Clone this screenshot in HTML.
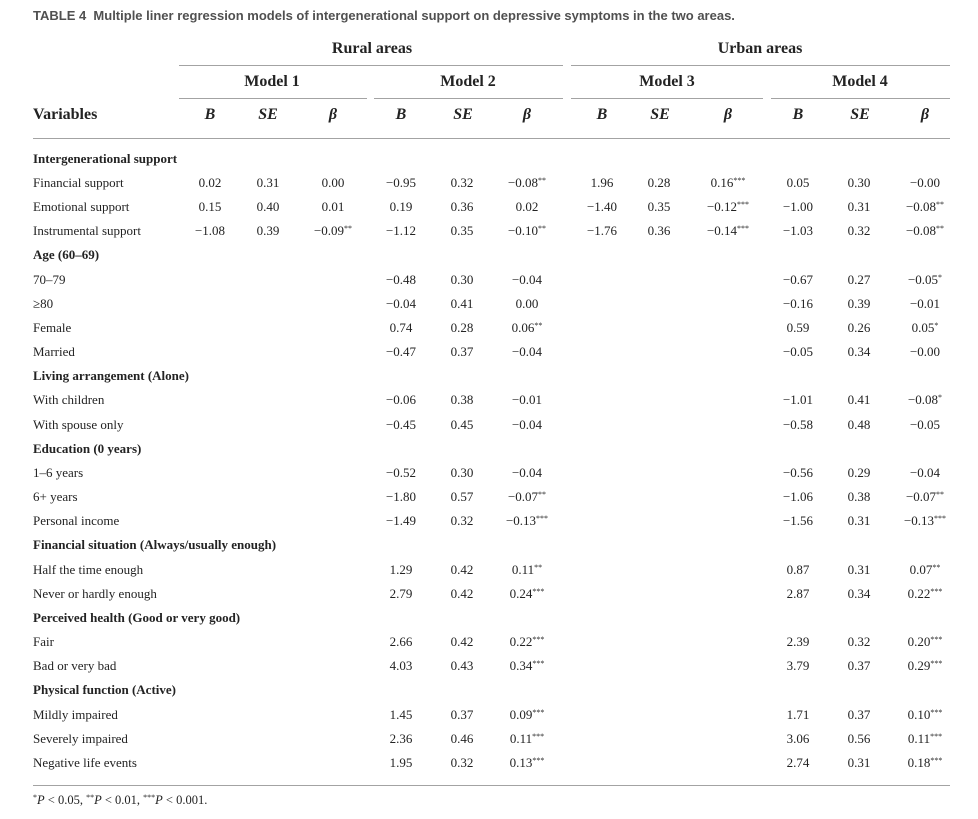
<!DOCTYPE html>
<html>
<head>
<meta charset="utf-8">
<style>
  html,body{margin:0;padding:0;background:#fff;}
  body{width:978px;height:819px;position:relative;overflow:hidden;font-family:"Liberation Serif",serif;color:#232323;}
  .t{position:absolute;white-space:nowrap;line-height:16px;font-size:13px;}
  .c{transform:translateX(-50%);}
  .b{font-weight:bold;}
  .h{font-size:16px;line-height:20px;font-weight:bold;}
  .hi{font-style:italic;}
  .ln{position:absolute;height:1px;background:#a3a3a3;}
  .title{position:absolute;left:33px;top:8px;line-height:16px;font-family:"Liberation Sans",sans-serif;font-weight:bold;font-size:13px;color:#505050;white-space:nowrap;}
  sup{font-size:8px;vertical-align:0;position:relative;top:-4px;line-height:0;}
</style>
</head>
<body>
<div class="title">TABLE 4&nbsp;&nbsp;Multiple liner regression models of intergenerational support on depressive symptoms in the two areas.</div>

<!-- header -->
<div class="t h c" style="left:372px;top:39px;">Rural areas</div>
<div class="t h c" style="left:760px;top:39px;">Urban areas</div>
<div class="ln" style="left:179px;width:384px;top:65px;"></div>
<div class="ln" style="left:571px;width:379px;top:65px;"></div>

<div class="t h c" style="left:272px;top:72px;">Model 1</div>
<div class="t h c" style="left:468px;top:72px;">Model 2</div>
<div class="t h c" style="left:667px;top:72px;">Model 3</div>
<div class="t h c" style="left:860px;top:72px;">Model 4</div>
<div class="ln" style="left:179px;width:188px;top:98px;"></div>
<div class="ln" style="left:374px;width:189px;top:98px;"></div>
<div class="ln" style="left:571px;width:192px;top:98px;"></div>
<div class="ln" style="left:771px;width:179px;top:98px;"></div>

<div class="t h" style="left:33px;top:105px;">Variables</div>
<div class="t h hi c" style="left:210px;top:105px;">B</div>
<div class="t h hi c" style="left:268px;top:105px;">SE</div>
<div class="t h hi c" style="left:333px;top:105px;">β</div>
<div class="t h hi c" style="left:401px;top:105px;">B</div>
<div class="t h hi c" style="left:463px;top:105px;">SE</div>
<div class="t h hi c" style="left:527px;top:105px;">β</div>
<div class="t h hi c" style="left:602px;top:105px;">B</div>
<div class="t h hi c" style="left:660px;top:105px;">SE</div>
<div class="t h hi c" style="left:728px;top:105px;">β</div>
<div class="t h hi c" style="left:798px;top:105px;">B</div>
<div class="t h hi c" style="left:860px;top:105px;">SE</div>
<div class="t h hi c" style="left:925px;top:105px;">β</div>
<div class="ln" style="left:33px;width:917px;top:138px;"></div>

<!-- body rows -->
<div class="t b" style="left:33px;top:151px;">Intergenerational support</div>

<div class="t" style="left:33px;top:175px;">Financial support</div>
<div class="t c" style="left:210px;top:175px;">0.02</div>
<div class="t c" style="left:268px;top:175px;">0.31</div>
<div class="t c" style="left:333px;top:175px;">0.00</div>
<div class="t c" style="left:401px;top:175px;">−0.95</div>
<div class="t c" style="left:462px;top:175px;">0.32</div>
<div class="t c" style="left:527px;top:175px;">−0.08<sup>**</sup></div>
<div class="t c" style="left:602px;top:175px;">1.96</div>
<div class="t c" style="left:659px;top:175px;">0.28</div>
<div class="t c" style="left:728px;top:175px;">0.16<sup>***</sup></div>
<div class="t c" style="left:798px;top:175px;">0.05</div>
<div class="t c" style="left:859px;top:175px;">0.30</div>
<div class="t c" style="left:925px;top:175px;">−0.00</div>

<div class="t" style="left:33px;top:199px;">Emotional support</div>
<div class="t c" style="left:210px;top:199px;">0.15</div>
<div class="t c" style="left:268px;top:199px;">0.40</div>
<div class="t c" style="left:333px;top:199px;">0.01</div>
<div class="t c" style="left:401px;top:199px;">0.19</div>
<div class="t c" style="left:462px;top:199px;">0.36</div>
<div class="t c" style="left:527px;top:199px;">0.02</div>
<div class="t c" style="left:602px;top:199px;">−1.40</div>
<div class="t c" style="left:659px;top:199px;">0.35</div>
<div class="t c" style="left:728px;top:199px;">−0.12<sup>***</sup></div>
<div class="t c" style="left:798px;top:199px;">−1.00</div>
<div class="t c" style="left:859px;top:199px;">0.31</div>
<div class="t c" style="left:925px;top:199px;">−0.08<sup>**</sup></div>

<div class="t" style="left:33px;top:223px;">Instrumental support</div>
<div class="t c" style="left:210px;top:223px;">−1.08</div>
<div class="t c" style="left:268px;top:223px;">0.39</div>
<div class="t c" style="left:333px;top:223px;">−0.09<sup>**</sup></div>
<div class="t c" style="left:401px;top:223px;">−1.12</div>
<div class="t c" style="left:462px;top:223px;">0.35</div>
<div class="t c" style="left:527px;top:223px;">−0.10<sup>**</sup></div>
<div class="t c" style="left:602px;top:223px;">−1.76</div>
<div class="t c" style="left:659px;top:223px;">0.36</div>
<div class="t c" style="left:728px;top:223px;">−0.14<sup>***</sup></div>
<div class="t c" style="left:798px;top:223px;">−1.03</div>
<div class="t c" style="left:859px;top:223px;">0.32</div>
<div class="t c" style="left:925px;top:223px;">−0.08<sup>**</sup></div>

<div class="t b" style="left:33px;top:247px;">Age (60–69)</div>

<div class="t" style="left:33px;top:272px;">70–79</div>
<div class="t c" style="left:401px;top:272px;">−0.48</div>
<div class="t c" style="left:462px;top:272px;">0.30</div>
<div class="t c" style="left:527px;top:272px;">−0.04</div>
<div class="t c" style="left:798px;top:272px;">−0.67</div>
<div class="t c" style="left:859px;top:272px;">0.27</div>
<div class="t c" style="left:925px;top:272px;">−0.05<sup>*</sup></div>

<div class="t" style="left:33px;top:296px;">≥80</div>
<div class="t c" style="left:401px;top:296px;">−0.04</div>
<div class="t c" style="left:462px;top:296px;">0.41</div>
<div class="t c" style="left:527px;top:296px;">0.00</div>
<div class="t c" style="left:798px;top:296px;">−0.16</div>
<div class="t c" style="left:859px;top:296px;">0.39</div>
<div class="t c" style="left:925px;top:296px;">−0.01</div>

<div class="t" style="left:33px;top:320px;">Female</div>
<div class="t c" style="left:401px;top:320px;">0.74</div>
<div class="t c" style="left:462px;top:320px;">0.28</div>
<div class="t c" style="left:527px;top:320px;">0.06<sup>**</sup></div>
<div class="t c" style="left:798px;top:320px;">0.59</div>
<div class="t c" style="left:859px;top:320px;">0.26</div>
<div class="t c" style="left:925px;top:320px;">0.05<sup>*</sup></div>

<div class="t" style="left:33px;top:344px;">Married</div>
<div class="t c" style="left:401px;top:344px;">−0.47</div>
<div class="t c" style="left:462px;top:344px;">0.37</div>
<div class="t c" style="left:527px;top:344px;">−0.04</div>
<div class="t c" style="left:798px;top:344px;">−0.05</div>
<div class="t c" style="left:859px;top:344px;">0.34</div>
<div class="t c" style="left:925px;top:344px;">−0.00</div>

<div class="t b" style="left:33px;top:368px;">Living arrangement (Alone)</div>

<div class="t" style="left:33px;top:392px;">With children</div>
<div class="t c" style="left:401px;top:392px;">−0.06</div>
<div class="t c" style="left:462px;top:392px;">0.38</div>
<div class="t c" style="left:527px;top:392px;">−0.01</div>
<div class="t c" style="left:798px;top:392px;">−1.01</div>
<div class="t c" style="left:859px;top:392px;">0.41</div>
<div class="t c" style="left:925px;top:392px;">−0.08<sup>*</sup></div>

<div class="t" style="left:33px;top:417px;">With spouse only</div>
<div class="t c" style="left:401px;top:417px;">−0.45</div>
<div class="t c" style="left:462px;top:417px;">0.45</div>
<div class="t c" style="left:527px;top:417px;">−0.04</div>
<div class="t c" style="left:798px;top:417px;">−0.58</div>
<div class="t c" style="left:859px;top:417px;">0.48</div>
<div class="t c" style="left:925px;top:417px;">−0.05</div>

<div class="t b" style="left:33px;top:441px;">Education (0 years)</div>

<div class="t" style="left:33px;top:465px;">1–6 years</div>
<div class="t c" style="left:401px;top:465px;">−0.52</div>
<div class="t c" style="left:462px;top:465px;">0.30</div>
<div class="t c" style="left:527px;top:465px;">−0.04</div>
<div class="t c" style="left:798px;top:465px;">−0.56</div>
<div class="t c" style="left:859px;top:465px;">0.29</div>
<div class="t c" style="left:925px;top:465px;">−0.04</div>

<div class="t" style="left:33px;top:489px;">6+ years</div>
<div class="t c" style="left:401px;top:489px;">−1.80</div>
<div class="t c" style="left:462px;top:489px;">0.57</div>
<div class="t c" style="left:527px;top:489px;">−0.07<sup>**</sup></div>
<div class="t c" style="left:798px;top:489px;">−1.06</div>
<div class="t c" style="left:859px;top:489px;">0.38</div>
<div class="t c" style="left:925px;top:489px;">−0.07<sup>**</sup></div>

<div class="t" style="left:33px;top:513px;">Personal income</div>
<div class="t c" style="left:401px;top:513px;">−1.49</div>
<div class="t c" style="left:462px;top:513px;">0.32</div>
<div class="t c" style="left:527px;top:513px;">−0.13<sup>***</sup></div>
<div class="t c" style="left:798px;top:513px;">−1.56</div>
<div class="t c" style="left:859px;top:513px;">0.31</div>
<div class="t c" style="left:925px;top:513px;">−0.13<sup>***</sup></div>

<div class="t b" style="left:33px;top:537px;">Financial situation (Always/usually enough)</div>

<div class="t" style="left:33px;top:562px;">Half the time enough</div>
<div class="t c" style="left:401px;top:562px;">1.29</div>
<div class="t c" style="left:462px;top:562px;">0.42</div>
<div class="t c" style="left:527px;top:562px;">0.11<sup>**</sup></div>
<div class="t c" style="left:798px;top:562px;">0.87</div>
<div class="t c" style="left:859px;top:562px;">0.31</div>
<div class="t c" style="left:925px;top:562px;">0.07<sup>**</sup></div>

<div class="t" style="left:33px;top:586px;">Never or hardly enough</div>
<div class="t c" style="left:401px;top:586px;">2.79</div>
<div class="t c" style="left:462px;top:586px;">0.42</div>
<div class="t c" style="left:527px;top:586px;">0.24<sup>***</sup></div>
<div class="t c" style="left:798px;top:586px;">2.87</div>
<div class="t c" style="left:859px;top:586px;">0.34</div>
<div class="t c" style="left:925px;top:586px;">0.22<sup>***</sup></div>

<div class="t b" style="left:33px;top:610px;">Perceived health (Good or very good)</div>

<div class="t" style="left:33px;top:634px;">Fair</div>
<div class="t c" style="left:401px;top:634px;">2.66</div>
<div class="t c" style="left:462px;top:634px;">0.42</div>
<div class="t c" style="left:527px;top:634px;">0.22<sup>***</sup></div>
<div class="t c" style="left:798px;top:634px;">2.39</div>
<div class="t c" style="left:859px;top:634px;">0.32</div>
<div class="t c" style="left:925px;top:634px;">0.20<sup>***</sup></div>

<div class="t" style="left:33px;top:658px;">Bad or very bad</div>
<div class="t c" style="left:401px;top:658px;">4.03</div>
<div class="t c" style="left:462px;top:658px;">0.43</div>
<div class="t c" style="left:527px;top:658px;">0.34<sup>***</sup></div>
<div class="t c" style="left:798px;top:658px;">3.79</div>
<div class="t c" style="left:859px;top:658px;">0.37</div>
<div class="t c" style="left:925px;top:658px;">0.29<sup>***</sup></div>

<div class="t b" style="left:33px;top:682px;">Physical function (Active)</div>

<div class="t" style="left:33px;top:707px;">Mildly impaired</div>
<div class="t c" style="left:401px;top:707px;">1.45</div>
<div class="t c" style="left:462px;top:707px;">0.37</div>
<div class="t c" style="left:527px;top:707px;">0.09<sup>***</sup></div>
<div class="t c" style="left:798px;top:707px;">1.71</div>
<div class="t c" style="left:859px;top:707px;">0.37</div>
<div class="t c" style="left:925px;top:707px;">0.10<sup>***</sup></div>

<div class="t" style="left:33px;top:731px;">Severely impaired</div>
<div class="t c" style="left:401px;top:731px;">2.36</div>
<div class="t c" style="left:462px;top:731px;">0.46</div>
<div class="t c" style="left:527px;top:731px;">0.11<sup>***</sup></div>
<div class="t c" style="left:798px;top:731px;">3.06</div>
<div class="t c" style="left:859px;top:731px;">0.56</div>
<div class="t c" style="left:925px;top:731px;">0.11<sup>***</sup></div>

<div class="t" style="left:33px;top:755px;">Negative life events</div>
<div class="t c" style="left:401px;top:755px;">1.95</div>
<div class="t c" style="left:462px;top:755px;">0.32</div>
<div class="t c" style="left:527px;top:755px;">0.13<sup>***</sup></div>
<div class="t c" style="left:798px;top:755px;">2.74</div>
<div class="t c" style="left:859px;top:755px;">0.31</div>
<div class="t c" style="left:925px;top:755px;">0.18<sup>***</sup></div>

<div class="ln" style="left:33px;width:917px;top:785px;"></div>

<div class="t" style="left:33px;top:792px;font-size:12.5px;"><sup>*</sup><i>P</i> &lt; 0.05, <sup>**</sup><i>P</i> &lt; 0.01, <sup>***</sup><i>P</i> &lt; 0.001.</div>
</body>
</html>
